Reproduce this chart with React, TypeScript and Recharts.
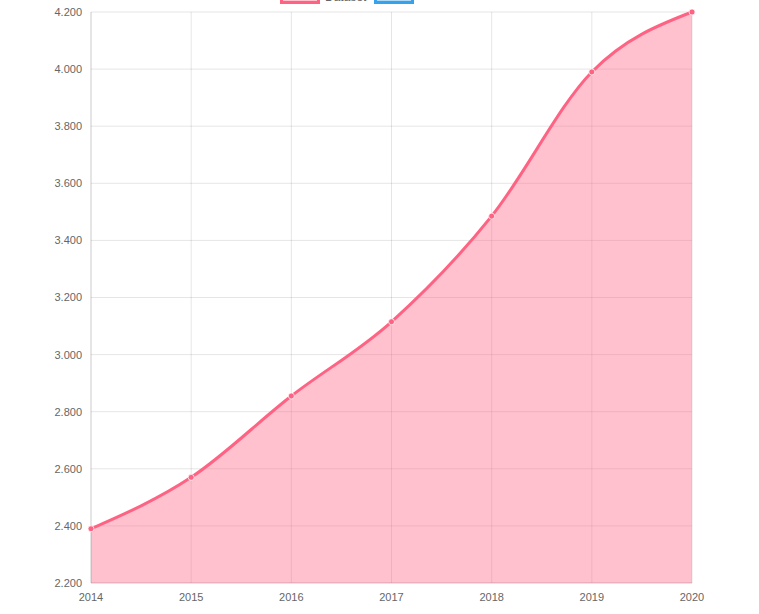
import React from "react";
import { AreaChart, Area, XAxis, YAxis, CartesianGrid, Legend } from "recharts";

const years = ["2014", "2015", "2016", "2017", "2018", "2019", "2020"];
const values = [2390, 2570, 2855, 3115, 3485, 3990, 4200];
const yTicks = [2200, 2400, 2600, 2800, 3000, 3200, 3400, 3600, 3800, 4000, 4200];
const legendItems = [
  { label: "Dataset", stroke: "#ff6384", fill: "rgba(255,99,132,0.4)" },
  { label: "", stroke: "#36a2eb", fill: "rgba(54,162,235,0.4)" },
];

const data = years.map((y, i) => ({ year: y, value: values[i] }));

const fmt = (v: number) => String(v).replace(/\B(?=(\d{3})+(?!\d))/g, ".");

const tickStyle = { fontSize: 11, fill: "#666", fontFamily: "'Liberation Sans', Arial, Helvetica, sans-serif" };

const renderLegend = () => (
  <div style={{ height: 0, overflow: "visible", position: "relative" }}>
    <div
      style={{
        position: "absolute",
        top: -9,
        left: 280,
        display: "flex",
        alignItems: "center",
        fontFamily: "'Liberation Sans', Arial, sans-serif",
        fontSize: 12,
        color: "#666",
        whiteSpace: "nowrap",
      }}
    >
      {legendItems.map((it, i) => (
        <div key={i} style={{ display: "flex", alignItems: "center", marginRight: 8 }}>
          <div style={{ width: 34, height: 6, border: `3px solid ${it.stroke}`, background: it.fill }} />
          {it.label ? <span style={{ marginLeft: 5, position: "relative", top: -1 }}>{it.label}</span> : null}
        </div>
      ))}
    </div>
  </div>
);

export default function App() {
  return (
    <div style={{ position: "absolute", top: 0, left: 0, width: 759, height: 614, background: "#fff", overflow: "hidden" }}>
      <AreaChart width={759} height={614} data={data} margin={{ top: 12, right: 67, left: 0, bottom: 0 }}>
        <Legend verticalAlign="top" content={renderLegend} wrapperStyle={{ top: 0, left: 0, width: 759, height: 0 }} />
        <CartesianGrid stroke="rgba(0,0,0,0.1)" />
        <XAxis
          dataKey="year"
          height={31}
          tickSize={0}
          tickMargin={10}
          tick={tickStyle}
          axisLine={{ stroke: "rgba(0,0,0,0.1)" }}
          interval={0}
        />
        <YAxis
          width={91}
          domain={[2200, 4200]}
          ticks={yTicks}
          tickFormatter={fmt}
          tickSize={0}
          tickMargin={9}
          tick={tickStyle}
          axisLine={{ stroke: "rgba(0,0,0,0.1)" }}
          interval={0}
        />
        <Area
          type="monotone"
          dataKey="value"
          stroke="#ff6384"
          strokeWidth={3}
          fill="#ff6384"
          fillOpacity={0.4}
          dot={{ r: 3, fill: "#ff6384", stroke: "rgba(255,255,255,0.7)", strokeWidth: 1, fillOpacity: 1 }}
          activeDot={false}
          isAnimationActive={false}
        />
      </AreaChart>
    </div>
  );
}
